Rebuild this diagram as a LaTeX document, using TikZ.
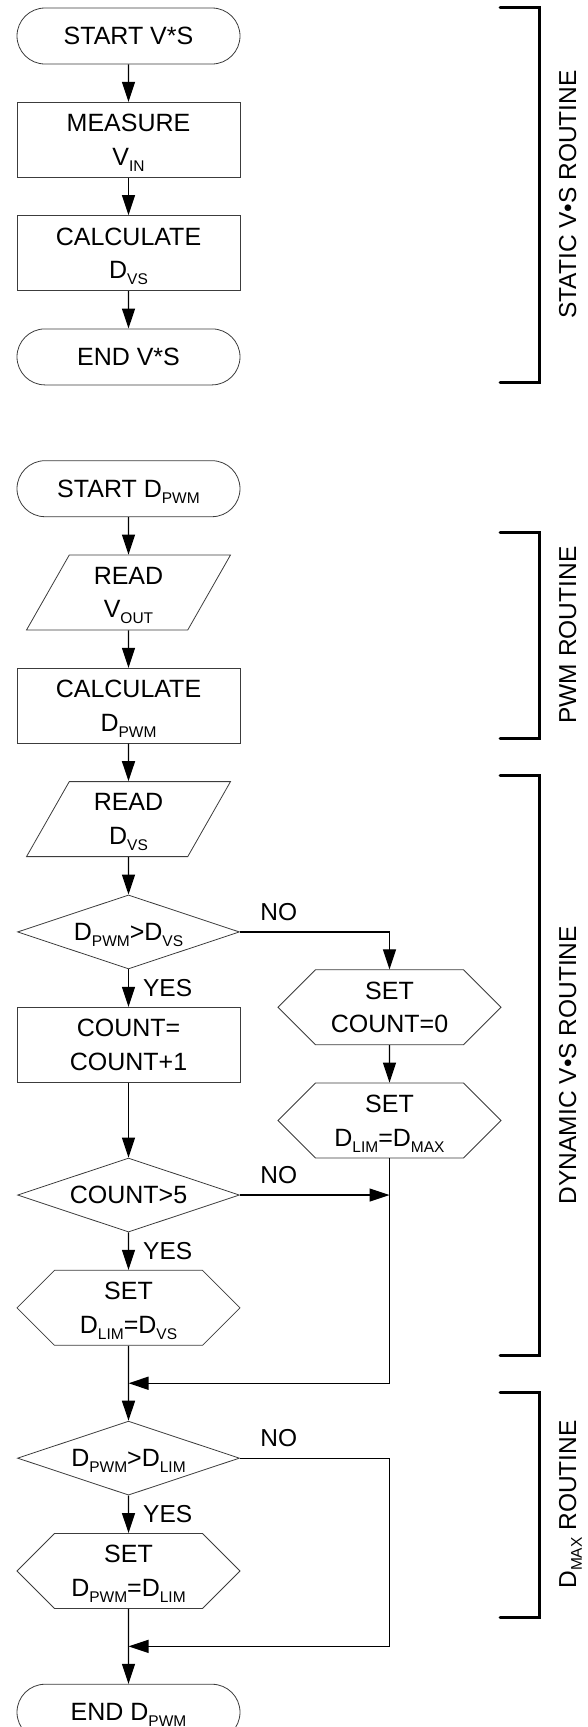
\documentclass[tikz,border=0pt]{standalone}
\usepackage{fontspec}
\setmainfont{Liberation Sans}
\usetikzlibrary{shapes.geometric, shapes.misc, shapes.symbols, arrows.meta, positioning, calc}
\definecolor{edgegray}{RGB}{60,60,60}
\newcommand{\sbs}[1]{\raisebox{-0.24em}{\fontsize{15.5}{15.5}\selectfont #1}}

\begin{document}
\begin{tikzpicture}[
  x=1pt, y=1pt,
  node distance=37.5pt,
  base/.style={draw=edgegray, line width=0.8pt, align=center,
    font=\fontsize{25}{33.5}\selectfont, inner sep=0pt, text depth=0pt},
  term/.style={base, rounded rectangle, minimum width=223pt, minimum height=56pt},
  proc/.style={base, rectangle, minimum width=223pt, minimum height=75pt},
  io/.style={base, trapezium, trapezium left angle=63.7, trapezium right angle=116.3,
    trapezium stretches=true, minimum width=204pt, minimum height=75pt},
  decision/.style={base, diamond, aspect=3, minimum width=222pt, minimum height=74pt},
  setbox/.style={base, signal, signal to=east and west, signal pointer angle=90,
    minimum width=223pt, minimum height=75pt},
  arrow/.style={-{Triangle[length=20pt, width=13pt]}, line width=1.3pt},
  lbl/.style={font=\fontsize{24.5}{28}\selectfont, inner sep=2pt},
  bracket/.style={line width=3pt, line cap=round},
  side/.style={font=\fontsize{24.5}{28}\selectfont, rotate=90, inner sep=0pt, anchor=base}
]
\useasboundingbox (0,0) rectangle (587,-1727);

% Static V*S routine
\node[term] (startvs) at (128.5,-36) {START V*S};
\node[proc, below=of startvs] (measure) {MEASURE\\V\sbs{IN}};
\node[proc, below=of measure] (calcvs) {CALCULATE\\D\sbs{VS}};
\node[term, below=of calcvs] (endvs) {END V*S};

% PWM routine
\node[term, below=75pt of endvs] (startpwm) {START D\sbs{PWM}};
\node[io, below=of startpwm] (readv) {READ\\V\sbs{OUT}};
\node[proc, below=of readv] (calcpwm) {CALCULATE\\D\sbs{PWM}};

% Dynamic V*S routine
\node[io, below=of calcpwm] (readd) {READ\\D\sbs{VS}};
\node[decision, below=of readd] (dec1) {D\sbs{PWM}>D\sbs{VS}};
\node[proc, below=of dec1] (count) {COUNT=\\COUNT+1};
\node[decision, below=75pt of count] (dec2) {COUNT>5};
\node[setbox, below=of dec2] (setlim) {SET\\D\sbs{LIM}=D\sbs{VS}};

\coordinate (rcol) at (389.5,0);
\node[setbox, anchor=north] (setcnt) at (dec1.south -| rcol) {SET\\COUNT=0};
\node[setbox, below=of setcnt] (setmax) {SET\\D\sbs{LIM}=D\sbs{MAX}};

% D_MAX routine
\node[decision, below=75pt of setlim] (dec3) {D\sbs{PWM}>D\sbs{LIM}};
\node[setbox, below=of dec3] (setpwm) {SET\\D\sbs{PWM}=D\sbs{LIM}};
\node[term, below=75pt of setpwm] (endpwm) {END D\sbs{PWM}};

\coordinate (join1) at ($(setlim.south)!0.5!(dec3.north)$);
\coordinate (join2) at ($(setpwm.south)!0.5!(endpwm.north)$);

% Arrows
\draw[arrow] (startvs) -- (measure);
\draw[arrow] (measure) -- (calcvs);
\draw[arrow] (calcvs) -- (endvs);
\draw[arrow] (startpwm) -- (readv);
\draw[arrow] (readv) -- (calcpwm);
\draw[arrow] (calcpwm) -- (readd);
\draw[arrow] (readd) -- (dec1);
\draw[arrow] (dec1) -- node[lbl, right=12pt] {YES} (count);
\draw[arrow] (dec1.east) -| node[lbl, above=9pt, pos=0.13] {NO} (setcnt.north);
\draw[arrow] (setcnt) -- (setmax);
\draw[arrow] (count) -- (dec2);
\draw[arrow] (dec2) -- node[lbl, right=12pt] {YES} (setlim);
\draw[arrow] (dec2.east) -- node[lbl, above=9pt, pos=0.26] {NO} (dec2.east -| rcol);
\draw[arrow] (setmax.south) |- (join1);
\draw[arrow] (setlim) -- (dec3);
\draw[arrow] (dec3) -- node[lbl, right=12pt] {YES} (setpwm);
\draw[arrow] (dec3.east) -- node[lbl, above=9pt, pos=0.26] {NO} (dec3.east -| rcol) |- (join2);
\draw[arrow] (setpwm) -- (endpwm);

% Brackets
\draw[bracket] (500,-7) -| (539,-382) -- (500,-382);
\node[side] (lstatic) at (576,-194.5) {STATIC V•S ROUTINE};
\draw[bracket] (500,-532) -| (539,-738) -- (500,-738);
\node[side] (lpwm) at (576,-635) {PWM ROUTINE};
\draw[bracket] (500,-775) -| (539,-1355) -- (500,-1355);
\node[side] (ldyn) at (576,-1065) {DYNAMIC V•S ROUTINE};
\draw[bracket] (500,-1392) -| (539,-1617) -- (500,-1617);
\node[side] (ldmax) at (576,-1504.5) {D\sbs{MAX} ROUTINE};
\end{tikzpicture}
\end{document}
